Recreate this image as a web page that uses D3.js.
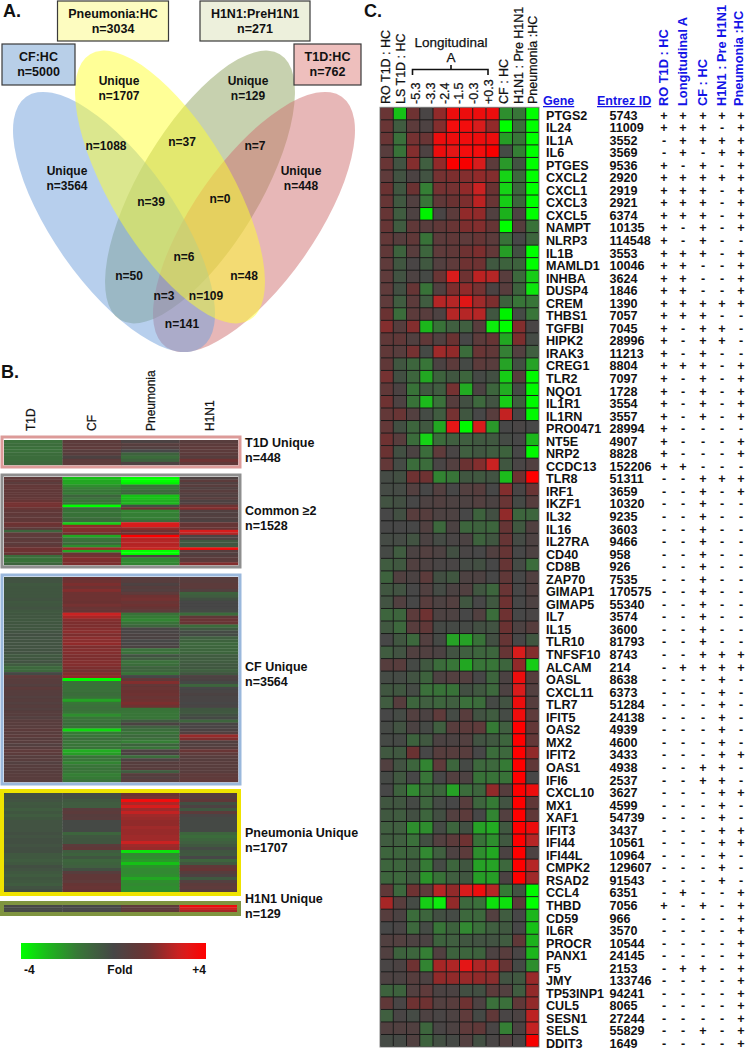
<!DOCTYPE html>
<html><head><meta charset="utf-8">
<style>html,body{margin:0;padding:0;background:#fff}svg{display:block}text{font-family:"Liberation Sans",Arial,sans-serif;fill:#111}</style>
<script src="https://cdn.jsdelivr.net/npm/d3@7"></script>
</head><body><div id="c"></div>
<script>
const geneNames=["PTGS2","IL24","IL1A","IL6","PTGES","CXCL2","CXCL1","CXCL3","CXCL5","NAMPT","NLRP3","IL1B","MAMLD1","INHBA","DUSP4","CREM","THBS1","TGFBI","HIPK2","IRAK3","CREG1","TLR2","NQO1","IL1R1","IL1RN","PRO0471","NT5E","NRP2","CCDC13","TLR8","IRF1","IKZF1","IL32","IL16","IL27RA","CD40","CD8B","ZAP70","GIMAP1","GIMAP5","IL7","IL15","TLR10","TNFSF10","ALCAM","OASL","CXCL11","TLR7","IFIT5","OAS2","MX2","IFIT2","OAS1","IFI6","CXCL10","MX1","XAF1","IFIT3","IFI44","IFI44L","CMPK2","RSAD2","CCL4","THBD","CD59","IL6R","PROCR","PANX1","F5","JMY","TP53INP1","CUL5","SESN1","SELS","DDIT3"];
const entrezIds=[5743,11009,3552,3569,9536,2920,2919,2921,6374,10135,114548,3553,10046,3624,1846,1390,7057,7045,28996,11213,8804,7097,1728,3554,3557,28994,4907,8828,152206,51311,3659,10320,9235,3603,9466,958,926,7535,170575,55340,3574,3600,81793,8743,214,8638,6373,51284,24138,4939,4600,3433,4938,2537,3627,4599,54739,3437,10561,10964,129607,91543,6351,7056,966,3570,10544,24145,2153,133746,94241,8065,27244,55829,1649];
const callTable=["+++++","+++-+","-++++","-+-++","+-+-+","+++++","+++-+","+++-+","+++-+","+-+-+","+-+--","+++-+","++--+","++--+","++--+","+++++","+++--","+-++-","+-++-","+-+--","+++-+","+-+-+","+-+-+","+-+-+","+-+-+","+----","+---+","+---+","++---","--+++","--+-+","--+--","--+--","--+--","--+--","--+--","--+--","--+--","--+--","--+--","--+--","--+--","--+--","--+++","-++++","---+-","---+-","---+-","---+-","---+-","---+-","---++","--++-","--++-","---++","---+-","---+-","---++","---++","---+-","---+-","---+-","-+--+","+-+-+","----+","----+","----+","----+","-++-+","----+","----+","----+","----+","--+-+","----+"];
const heatValues=[
[1.3,-3,1.5,.1,2,3.5,3.5,3.5,3.5,-2,-1.5,-4],
[1.3,-.7,.8,.3,1.8,3.7,3.7,3,2,-4,-1.3,-4],
[1.3,-1.3,1.6,1.3,3.5,3.5,3.6,3.5,3.5,-2.3,-1.5,-4],
[.7,-1.4,1.8,.3,3.5,3.3,3.7,3.7,3.8,-.2,-1.7,-4],
[1.3,-.4,1.8,-.8,2,3.9,3.8,3,.8,-2.2,-.4,-4],
[.9,-.4,.2,-.4,1.6,1.7,1.8,2,1.8,-3.3,-1.1,-4],
[1.4,-.5,1.4,-1.7,1.6,1.6,2,2.8,1.4,-3.3,-1,-4],
[1.2,-.6,.4,-1.5,1,1.4,1.7,2.6,1.3,-3.2,-1,-4],
[1.2,-.7,.3,-3.8,.1,.8,2,2,.4,-2.7,.3,-4],
[1.2,-.7,1,.7,1,1.3,1.7,1.8,1.2,-4,.6,-1.4],
[1.1,.6,1,-1.4,.8,1,.9,1.2,.8,-1.4,0,-1],
[1,-.9,.7,-1,.9,1,1.5,1.7,1.1,-2.3,-.3,-4],
[.9,-.5,.1,-.6,.5,.9,1.5,1.5,-.6,-.9,-.9,-4],
[.9,-.4,.3,-.1,1.3,3,1.5,2.6,2.5,.7,-1.1,-3.2],
[.9,-.3,1.2,-1.4,.4,1.7,2,1.6,.2,.7,-.9,-3.6],
[.9,-.7,.8,-.7,2.5,2.5,3.2,2.2,1.7,-.9,-1.5,-1.5],
[1.4,-1.2,.8,.7,.3,2.5,2.5,2.5,-.5,-3.8,-.2,-1.5],
[1.8,.6,1.8,-2.8,-1.4,-.8,-.8,.7,-3.7,-4,1.8,.1],
[1,1,.4,1,.4,1.4,0,.8,1.2,-2.5,1.7,-.2],
[1,.7,1.6,-.1,2.2,2,-1.2,1.3,1,-1.7,.5,-.8],
[1,-.5,-1,-1.5,.2,.8,-.1,.8,.7,-2.4,-.3,-2.4],
[1.6,-.3,-1,-2.5,-.9,-.5,-1,-.1,-.3,-3.2,.7,-3.9],
[1,.2,-1.4,-.6,-.7,1.6,-2.6,.2,-1,-2.6,-.2,-3.9],
[1.5,.3,-1.4,-2.9,-1.3,.6,-.3,-1.1,-.4,-3.2,-.8,-3.9],
[1.1,1.3,.5,-.2,-.7,1.6,-.5,0,.7,2.7,.1,-3.9],
[1.1,-.3,-1,-.6,-2.5,3.3,-3.9,3,-2.2,0,.1,0],
[1.5,.7,-1.2,-3.3,-1.2,-.8,-.8,-.6,-.6,-.2,0,-2.8],
[1.4,-.3,.2,-1.2,.9,.1,-.8,-.5,-.7,-.9,0,-3.9],
[1.1,-.2,-1.2,-1.2,.1,.5,1.4,1.8,2.8,-.5,.1,.4],
[-.2,-.3,1.5,1.5,-1.8,-1.5,-.5,-.6,-.4,-2.9,1.5,4],
[-.2,-.2,.5,0,.5,0,.5,.6,0,1.8,.1,1.3],
[-.4,-.3,0,.3,.4,.3,.3,.5,.2,1.3,-.1,.6],
[0,-.3,.7,.6,.3,.3,0,-.9,-.3,2,-1,-1],
[0,0,0,.4,-1.1,.2,-1,-.9,-1,1.2,-.6,.4],
[-.2,-.2,-.4,.2,-.2,.1,.2,-.9,-.5,1.2,-.2,.3],
[-.1,-.7,.2,.5,.3,-.3,.1,0,.4,1.2,0,.3],
[-.7,-.6,.4,.3,.1,.1,-.2,-.3,0,1.2,-.2,-1.2],
[-.9,.4,.2,.8,-.3,-.5,.3,.3,0,1,0,.4],
[-.5,-.4,0,.4,-.2,.2,.4,-.5,-1,1.3,0,.4],
[-.4,.4,0,.7,.3,.5,-.5,0,-.6,1.5,0,.3],
[-1,-1,.8,1.5,.3,.3,0,.4,-1.2,1.5,0,.1],
[-.6,-1.1,.7,1,-.1,-.1,-.1,-.3,-.4,1.4,.3,.6],
[0,-.5,-1.1,.5,-.1,-2.4,-2.4,-1.4,-.3,1.2,0,-.5],
[-.7,-.4,.4,.4,.2,-.4,-.8,-1,-1,1.2,3,1.8],
[.6,.7,-.1,-.6,-1.2,-1.5,-2.5,-1.5,-1.5,-1,2,-3.2],
[-.2,-.2,-.4,-.9,.3,.5,.5,0,-1,.2,3.5,.6],
[-.5,-.5,-.2,-1.3,-1.4,-1.4,-.3,-.6,-1.1,.3,3,.5],
[-.7,.6,-1,-.8,-1,-.8,-1.3,-1.2,-.1,-.4,3.5,.6],
[0,-.2,.5,.2,.9,-.2,.7,-.4,-.7,-.2,3.6,.9],
[-.1,-.4,.2,-.1,-.8,.7,.8,.9,-1.6,-.8,4,1.1],
[-.1,-.1,-.9,-.6,.2,.2,.5,-.4,-.6,-1,4,1.1],
[-.6,-.6,1.4,0,.6,.6,.7,0,-1.2,-1.1,4,2],
[.4,-.4,-1,-1.8,.9,-1,-.1,-1.1,-1.1,-1.6,4,1],
[-.1,-.6,0,-1.5,0,.5,.3,-1.4,-1.4,-1.4,4,0],
[0,-.9,-1.9,-1.2,-1,-2.4,-1.2,-1,2,.6,4,3.5],
[-.5,-.5,-.1,-1,-.2,0,.7,-1,-1.6,-.4,4,1],
[-.6,-.7,-.3,-1,-.3,.5,.8,0,-1.8,.5,4,1],
[-.8,-.8,-2,-2,-.2,-1,-.3,-2.4,-2.6,-.6,4,3.5],
[-.7,-.8,-1.3,-.3,.5,.8,1.5,-1.4,-2,-.6,4,2.5],
[-1,-1,-.9,-1.9,-.8,.3,.8,-2,-2.5,.2,4,.3],
[-1,-1,-.6,-1.6,-.2,-1,-.5,-2.4,-2.4,-1.1,4,2.5],
[-1,-1.1,-.7,-2.1,-1.4,-.8,-.5,-2.3,-2.3,.2,4,2.2],
[1,-1.1,1.5,.9,2.5,2,3,3.6,2.5,-1.6,-.4,-3.9],
[2.3,.7,-.2,-3.2,-3.7,2,-1.1,-1.3,-3.5,-3.5,.8,-4],
[.6,.2,-1.2,-1,-.3,-.2,-1.1,-1.1,.5,-.7,0,-2.8],
[0,.1,-1.1,-.2,-1.5,-.9,-1.9,-1.3,-.8,-.6,0,-3],
[.4,.5,.3,.2,-.9,-.8,-.5,-.4,-.4,-.7,1,-2.7],
[.4,-.9,-1,-1.7,.4,-.9,-1,-.9,.3,.7,.1,-2.8],
[.1,.2,1.5,-1.8,2.3,2.4,3.3,2.4,2.4,1.2,-.1,-2],
[.3,.2,.6,.3,2,2,2.1,2,1.9,-.4,-.6,2.1],
[-.9,-.9,.5,.9,.2,.2,-.3,-.3,.8,.5,-.7,2],
[1,.1,1.5,1.5,.5,.7,1.5,.3,-1.3,-1.3,1,2],
[-.8,.1,-.2,.3,.1,.3,.9,-.1,1,.1,.2,2.6],
[.4,.4,.4,-1,.1,.3,.9,1,.1,-1.7,.2,2.7],
[-.2,-.1,.4,-.9,-.3,-.1,.5,-.3,.1,.4,.1,3.8]];
const heatHeaders=["RO T1D : HC","LS T1D : HC","-5.3","-3.3","-2.4","-1.5","-0.3","+0.3","CF : HC","H1N1 : Pre H1N1","Pneumonia :HC"];
const callHeaders=["RO T1D : HC","Longitudinal  A","CF : HC","H1N1 : Pre H1N1","Pneumonia :HC"];
const stripeHeaders=["T1D","CF","Pneumonia","H1N1"];
const t1dUnique=[[-1.3,.8,.2,.7],[-1.2,.8,.6,.8],[-1.3,.9,.5,.9],[-1.3,.7,0,.8],[-1.2,.7,-.9,.8],[-1.2,.2,-1.2,.6],[-1.2,.8,-.9,1.5],[-1.1,.8,.3,1]];
const commonTwo=[[.9,-3,-4,.3],[1,-2.5,-4,.8],[.8,-2.5,-3.8,.4],[1.1,-2,-1.5,.7],[1.1,-1.7,-1.5,.4],[1,-1.5,-1.2,.7],[1,-1.6,-1,.5],[1,-1,-3,.4],[1.1,-1.3,-3,.7],[1.2,-1.5,-2.6,.3],[1.6,-1.5,-2.8,.4],[1.6,-4,-.3,1.5],[1.3,-1.2,1.4,1.8],[1,-1.4,-1.8,.4],[1,-1.4,-1.7,.4],[.9,-1.4,-1.7,.5],[1,-1.2,-1.7,.4],[1,-1,-1.2,.3],[1.5,-3.2,3,1.2],[1.3,2,3,1.2],[.8,1.8,2,1.2],[-1,1.8,1.5,3],[.9,1.5,1.5,2.5],[.9,-2.5,3.9,.3],[.8,-1.5,2.5,.3],[.9,-1.3,2.5,-.6],[.8,-1.2,2.5,-.5],[1,-2,2.5,-.6],[1.5,2.2,2.8,3.6],[1.5,-2.5,-4,.6],[1.2,1.3,-4,.4],[-1.2,1.6,.3,.6],[-1.3,1.8,-1.8,.8],[-1.4,1.7,-1.9,.8],[-1,1.7,-1.8,1.8]];
const cfUnique=[[-.4,1.4,.7,.7],[-.4,1.5,.7,.7],[-.6,1.7,.3,.8],[-.5,1.5,.6,.8],[-.5,1.8,.5,.5],[-.5,1.5,.9,-.9],[-.5,1.5,1.5,-.7],[-.4,1.5,1.6,-.3],[-.6,1.4,1.3,0],[-.5,1.6,1.5,0],[-.4,1.3,1.2,0],[-.6,1.2,.9,-.2],[-.5,2.8,-1.4,-1.2],[-.5,2.3,-1.6,1],[-.6,1.8,-1.8,1.3],[-.5,1.7,-1.4,1.3],[-.5,1.7,-1,-1.2],[-.5,1.8,.1,-.6],[-.4,1.9,.1,-.2],[-.3,1.7,.2,-.2],[-.4,1.9,.2,-.8],[-.4,1.9,0,-.9],[-.4,2,.1,-1.1],[-.4,1.7,.2,-1],[-.4,1.8,-1.3,-1],[-.4,1.8,-1.3,-1],[-.6,1.7,-.4,-.7],[-.5,1.7,-.7,-.7],[-.4,1.8,-1.3,-.7],[-.7,1.8,-1.2,-.6],[-1.1,1.7,-.9,-.6],[-1.1,1.6,-1,-.8],[-.1,1.8,-1.4,-.5],[.9,2,0,.3],[.7,-3.9,1,.2],[.7,-1.4,1.8,-.1],[.5,-1.4,1.1,-1],[.8,-1.4,1.3,0],[.6,-1.3,1.4,.1],[.6,-1.2,1.5,.2],[.5,-1.4,1.3,.1],[.6,-2.4,1.5,.1],[.5,-1.5,1.7,0],[.6,-1.3,1.5,.1],[.5,-1.3,-1.4,-.5],[.6,-1.5,-1.5,-.6],[.6,-2,-1.5,-.3],[.5,-1.5,-1.5,-.1],[.7,-1.3,-.6,-1],[.7,-1.2,.2,.1],[.7,-1.4,-.8,.1],[.8,-3.4,-1.2,.2],[.7,-1.6,-1.4,.5],[.8,-1.5,-1.1,2.1],[.6,-1.2,-1.3,1.7],[.7,-1.5,-1.7,.4],[.5,-1.5,-.9,.5],[.7,-1.4,-1.5,.6],[.9,-2.6,.3,1.3],[.8,-2.3,.2,.9],[.6,-1.4,-1.2,.7],[.7,-1.5,.3,.6],[.5,-1.8,.6,.7],[.6,-1.5,.6,.7],[.6,-1.4,.7,.7],[.6,-1.5,-.7,.7],[.7,-1.7,.6,.9],[.7,-1.6,.5,.9],[.7,-1.4,.7,1]];
const pneumoniaUnique=[[-.3,-.2,1.4,.6],[-.3,-.3,1.6,.6],[-.4,-.6,3.7,1],[-.6,-.7,2.4,-.3],[-.5,-.7,3,.3],[-.7,.7,2.2,-.5],[-.5,.8,2.7,.8],[-.7,.6,2.2,.1],[-.5,.7,2.1,-.1],[-.4,-.1,2,-.1],[-.4,-.1,2,-.1],[-.4,-.1,2.2,-.1],[-.4,-.1,2.1,-.1],[-.3,-1,2.1,-1],[-.4,-.6,2.2,-1.2],[-.3,-.5,2.2,-1],[-.3,-.5,2.8,-.8],[-.4,.8,2.2,-.6],[-.3,1,2.1,-.2],[-.3,-.7,-3.5,-.5],[-.6,-.9,-1.9,-.6],[-.6,-.5,-2,0],[-.7,-1,-2.2,-1],[-.6,-.9,-3,-.6],[-.3,-.8,-2.1,1],[-.4,-.3,-1.9,1.2],[-.6,.7,-1.9,.6],[-.7,1,-2,.3],[-.5,1,-2.5,-.6],[-.6,.9,-2,.5],[-.7,1.2,-1.9,.8],[-.4,1.3,-2,.9],[-.3,1.2,-2,.7]];
const h1n1Unique=[[0,0,.9,3.5],[-.1,0,.8,2.9],[-.1,0,1,2.3]];
const stripeLabels=[["T1D Unique","n=448"],["Common ≥2","n=1528"],["CF Unique","n=3564"],["Pneumonia Unique","n=1707"],["H1N1 Unique","n=129"]];
const vennBoxTexts=[["CF:HC","n=5000"],["Pneumonia:HC","n=3034"],["H1N1:PreH1N1","n=271"],["T1D:HC","n=762"]];
const vennCounts=[["Unique","n=3564"],["Unique","n=1707"],["Unique","n=129"],["Unique","n=448"],["n=1088"],["n=37"],["n=7"],["n=39"],["n=0"],["n=6"],["n=50"],["n=48"],["n=3"],["n=109"],["n=141"]];

const W=746,H=1050;
const svg=d3.select("#c").append("svg").attr("width",W).attr("height",H).attr("viewBox",`0 0 ${W} ${H}`);
const color=d3.scaleLinear().domain([-4,-3,-1.5,0,1.5,3,4]).range(["#00ff00","#19c019","#387538","#464646","#6e3232","#d81e1e","#ff0000"]).clamp(true);
const defs=svg.append("defs");
defs.append("filter").attr("id","soft").append("feGaussianBlur").attr("stdDeviation",0.5);
defs.append("filter").attr("id","softer").append("feGaussianBlur").attr("stdDeviation",0.3);
const ink="#111";
function bold(g,x,y,t,size,anchor){return g.append("text").attr("x",x).attr("y",y).attr("font-size",size).attr("font-weight","bold").attr("text-anchor",anchor||"start").text(t);}
function vert(g,x,y,t,size,weight,fill){const s=g.append("text").attr("transform",`translate(${x},${y}) rotate(-90)`).attr("font-size",size).attr("font-weight",weight||"normal").text(t);if(fill)s.style("fill",fill);else s.attr("stroke","#111").attr("stroke-width",.25);return s;}

// Panel letters
bold(svg,3,17,"A.",18);bold(svg,1,378,"B.",18);bold(svg,364,17,"C.",18);

// Panel A: Venn
const venn=svg.append("g");
const ellipses=[
 {cx:200,cy:187,a:155,b:60,t:31,c:"#8fa45f"},
 {cx:254,cy:222,a:153,b:61,t:35,c:"#cf6f70"},
 {cx:114,cy:222,a:153,b:61,t:-35,c:"#6fa0dc"},
 {cx:170,cy:187,a:155,b:60,t:-31,c:"#ffff30"}];
venn.selectAll("ellipse").data(ellipses).join("ellipse")
 .attr("cx",d=>d.cx).attr("cy",d=>d.cy).attr("rx",d=>d.b).attr("ry",d=>d.a)
 .attr("transform",d=>`rotate(${d.t} ${d.cx} ${d.cy})`)
 .attr("fill",d=>d.c).attr("fill-opacity",.5);
const boxGeom=[[2,44,73,41,"#b8cfe8"],[57.5,1,111,40,"#fdfcc0"],[200,1,110,40,"#edf0dc"],[294,44,67,41,"#eebfbd"]];
vennBoxTexts.forEach((t,i)=>{const b=boxGeom[i];
 venn.append("rect").attr("x",b[0]).attr("y",b[1]).attr("width",b[2]).attr("height",b[3]).attr("fill",b[4]).attr("stroke","#3a3a3a").attr("stroke-width",1.2);
 bold(venn,b[0]+b[2]/2,b[1]+17,t[0],12.5,"middle");bold(venn,b[0]+b[2]/2,b[1]+32,t[1],12.5,"middle");});
const countPos=[[67,175],[119,85],[248,85],[301,175],[106,150],[182,146],[255,150],[151,206],[220,203],[184,261],[129,280],[244,280],[164,300],[206,300],[182,328]];
vennCounts.forEach((t,i)=>{const p=countPos[i];t.forEach((s,j)=>bold(venn,p[0],p[1]+j*15,s,12,"middle"));});

// Panel B: stripes
const panelB=svg.append("g");
const stripeX=d3.scaleBand().domain(stripeHeaders).range([4,238]);
stripeHeaders.forEach((h,i)=>vert(panelB,[35,96,155,214][i],431,h,12,"normal"));
const stripeBlocks=[
 {rows:t1dUnique,y0:440,y1:465,frame:"#dc9a98",fx:2,fy:437,fw:238,fh:30,sw:3},
 {rows:commonTwo,y0:477,y1:565,frame:"#8e8e8e",fx:2,fy:475,fw:238,fh:92,sw:3},
 {rows:cfUnique,y0:577,y1:782,frame:"#9ab8dc",fx:2,fy:575,fw:238,fh:209,sw:3},
 {rows:pneumoniaUnique,y0:793,y1:892,frame:"#efe300",fx:2,fy:791,fw:237,fh:103,sw:4},
 {rows:h1n1Unique,y0:905,y1:912,frame:"#7f9440",fx:2,fy:903,fw:237,fh:11,sw:4}];
const labelY=[447,515,671,837,903];
stripeBlocks.forEach((b,k)=>{
 const y=d3.scaleBand().domain(d3.range(b.rows.length)).range([b.y0,b.y1]);
 const g=panelB.append("g").attr("filter","url(#soft)");
 b.rows.forEach((r,i)=>{g.selectAll(null).data(r).join("rect").attr("x",(d,j)=>stripeX(stripeHeaders[j])).attr("y",y(i)).attr("width",stripeX.bandwidth()+.3).attr("height",y.bandwidth()+.3).attr("fill",d=>color(d));});
 panelB.append("rect").attr("x",b.fx).attr("y",b.fy).attr("width",b.fw).attr("height",b.fh).attr("fill","none").attr("stroke",b.frame).attr("stroke-width",b.sw);
 bold(panelB,245,labelY[k],stripeLabels[k][0],12.5);bold(panelB,245,labelY[k]+15,stripeLabels[k][1],12.5);
});
// Colour bar
const grad=defs.append("linearGradient").attr("id","bar");
d3.range(0,1.001,.05).forEach(f=>grad.append("stop").attr("offset",f).attr("stop-color",color(-4+8*f)));
panelB.append("rect").attr("x",21).attr("y",943).attr("width",185).attr("height",16).attr("fill","url(#bar)");
bold(panelB,24,974,"-4",12);bold(panelB,120,974,"Fold",12,"middle");bold(panelB,206,974,"+4",12,"end");

// Panel C: heat map
const panelC=svg.append("g");
const rowY=d3.scaleBand().domain(geneNames).range([107.3,1047]);
const colX=d3.scaleBand().domain(d3.range(12)).range([380,539]);
panelC.append("rect").attr("x",380).attr("y",107.3).attr("width",159).attr("height",939.7).attr("fill","#1a1a1a").attr("stroke","#888").attr("stroke-width",1);
const heatG=panelC.append("g").attr("filter","url(#softer)");
heatValues.forEach((r,i)=>{
 heatG.selectAll(null).data(r).join("rect")
  .attr("x",(d,j)=>colX(j)+.5).attr("y",rowY(geneNames[i])+.5)
  .attr("width",colX.bandwidth()-1).attr("height",rowY.bandwidth()-1).attr("fill",d=>color(d));
});
[385,400,415,430,444,458,473,488,503,518,532].forEach((x,i)=>{vert(panelC,x+4.5,104,heatHeaders[i],12.5,"normal");});
bold(panelC,451,47,"Longitudinal",13.5,"middle").attr("font-weight","normal").attr("stroke","#111").attr("stroke-width",.25);
bold(panelC,451,62,"A",13.5,"middle").attr("font-weight","normal").attr("stroke","#111").attr("stroke-width",.25);
panelC.append("path").attr("d","M412.5 75V69.5H488V75M451 69.5V65").attr("fill","none").attr("stroke",ink).attr("stroke-width",1.6);

const blue="#1414e6";
const under=(x,t)=>bold(panelC,x,105,t,12.5).style("fill",blue).attr("text-decoration","underline");
under(543,"Gene");under(597,"Entrez ID");
const callX=[664,683,703,722,741];
callHeaders.forEach((h,i)=>vert(panelC,callX[i]+(i==4?2:4),106,h,12.8,"bold",blue));
const textY=d3.scalePoint().domain(geneNames).range([119.5,1048]);
panelC.selectAll(".gene").data(geneNames).join("text").attr("x",546).attr("y",d=>textY(d)).attr("font-size",12.6).attr("font-weight","bold").text(d=>d);
panelC.selectAll(".entrez").data(entrezIds).join("text").attr("x",609.5).attr("y",(d,i)=>textY(geneNames[i])).attr("font-size",12.6).attr("font-weight","bold").text(d=>d);
callTable.forEach((s,i)=>{
 panelC.selectAll(null).data(s.split("")).join("text").attr("x",(d,j)=>callX[j]).attr("y",textY(geneNames[i])).attr("text-anchor","middle").attr("font-size",12.6).attr("font-weight","bold").text(d=>d);
});
</script></body></html>
